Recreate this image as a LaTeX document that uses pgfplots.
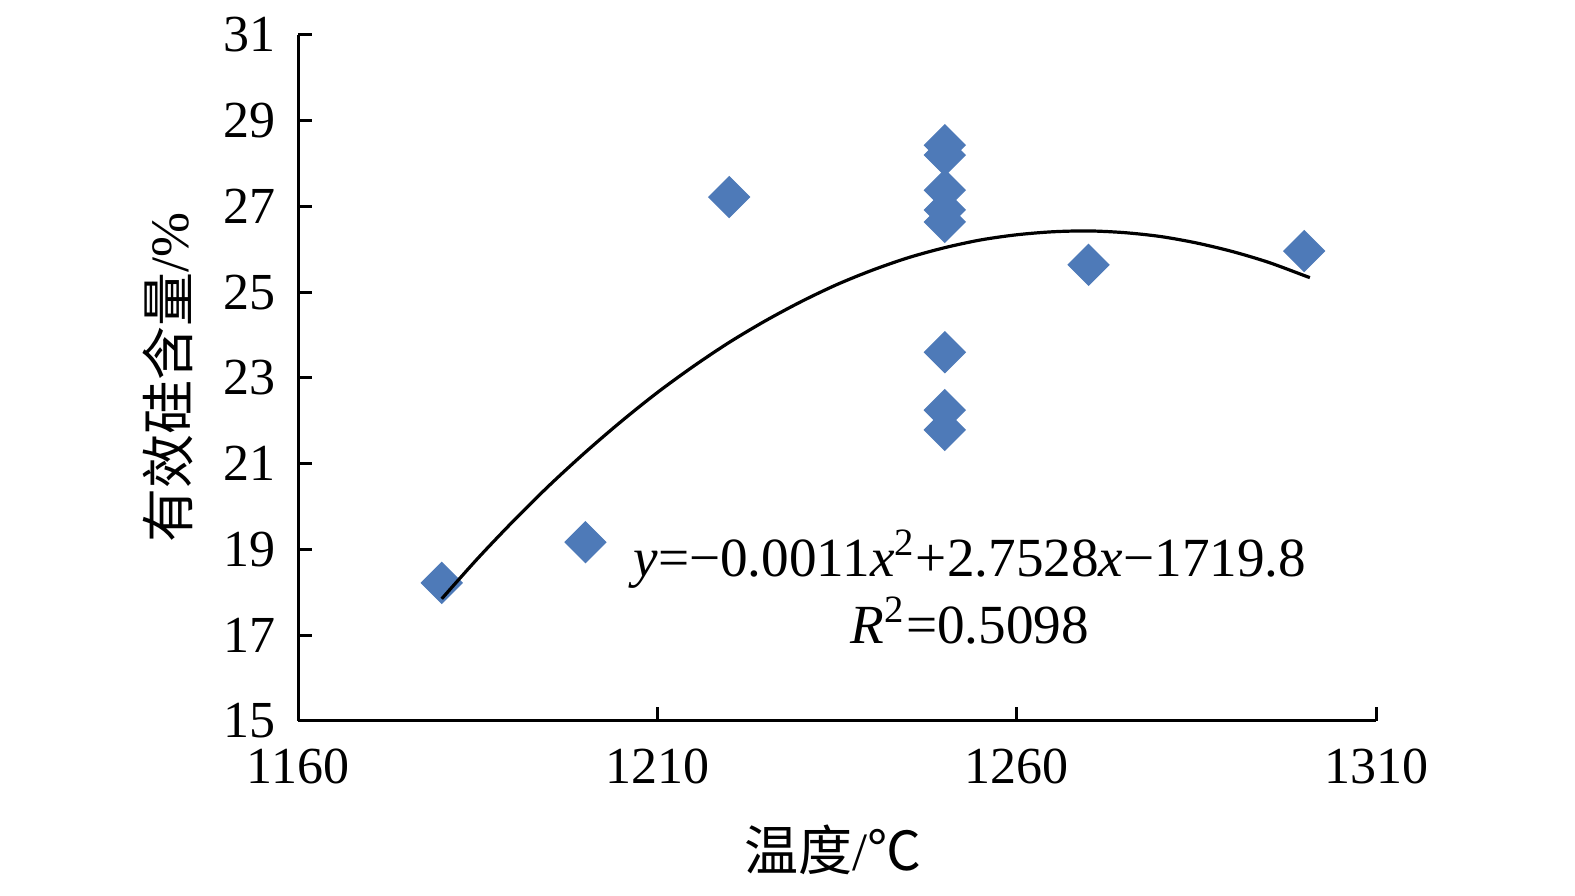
\documentclass[border=0pt]{standalone}
\usepackage{pgfplots}
\pgfplotsset{compat=1.18}
\usepackage{fontspec}
\setmainfont{Liberation Serif}
\newfontfamily\cjk{Noto Sans CJK SC}
\usetikzlibrary{calc}
\definecolor{markblue}{HTML}{4E7AB8}
\begin{document}
\begin{tikzpicture}
\begin{axis}[
  name=ax,
  set layers,
  scale only axis,
  width=269.5pt, height=171.5pt,
  xmin=1160, xmax=1310, ymin=15, ymax=31,
  xtick={1160,1210,1260,1310},
  ytick={15,17,19,21,23,25,27,29,31},
  axis x line*=bottom, axis y line*=left,
  axis line style={line width=0.75pt, black},
  tick style={line width=0.75pt, black},
  tick align=inside,
  major tick length=3.5pt,
  /pgf/number format/assume math mode=true,
  /pgf/number format/1000 sep={},
  tick label style={font=\fontsize{13}{15}\selectfont},
  yticklabel style={xshift=-2pt},
  xticklabel style={yshift=-3.4pt},
  xlabel={{\cjk 温度}/{\cjk ℃}},
  ylabel={{\cjk 有效硅含量}/\%},
  label style={font=\fontsize{13.5}{16}\selectfont},
  x label style={at={(axis description cs:0.496,-0.188)}, anchor=center},
  y label style={at={(axis description cs:-0.1206,0.5)}, anchor=center, rotate=0},
  clip=false,
]
\addplot[only marks, mark=square*, mark size=3.6pt,
  mark options={rotate=45, fill=markblue, draw=markblue, line width=0.3pt}]
  coordinates {
  (1180,18.22) (1200,19.17) (1220,27.22)
  (1250,28.43) (1250,28.20) (1250,27.38) (1250,26.92) (1250,26.64)
  (1250,23.60) (1250,22.25) (1250,21.79)
  (1270,25.64) (1300,25.96)
  };
\addplot[black, line width=0.8pt, no marks, smooth, on layer=axis foreground] coordinates {
  (1180,17.85) (1185,18.79) (1190,19.67) (1195,20.50) (1200,21.27)
  (1205,21.99) (1210,22.66) (1215,23.27) (1220,23.83) (1225,24.33)
  (1230,24.78) (1235,25.18) (1240,25.52) (1245,25.81) (1250,26.04)
  (1255,26.22) (1260,26.34) (1265,26.41) (1270,26.43) (1275,26.39)
  (1280,26.30) (1285,26.15) (1290,25.95) (1295,25.70) (1300,25.39)
  (1300.8,25.34)
  };
\node[align=center, font=\fontsize{13.8}{16.75}\selectfont] at (axis cs:1253.5,18.13)
  {\textit{y}=−0.0011\textit{x}\textsuperscript{2}+2.7528\textit{x}−1719.8\\
   \textit{R}\textsuperscript{2}=0.5098};
\end{axis}
\pgfresetboundingbox
\path[use as bounding box] ($(ax.south west)+(-74.5pt,-43.75pt)$) rectangle ($(ax.north east)+(49.75pt,8.75pt)$);
\end{tikzpicture}
\end{document}
